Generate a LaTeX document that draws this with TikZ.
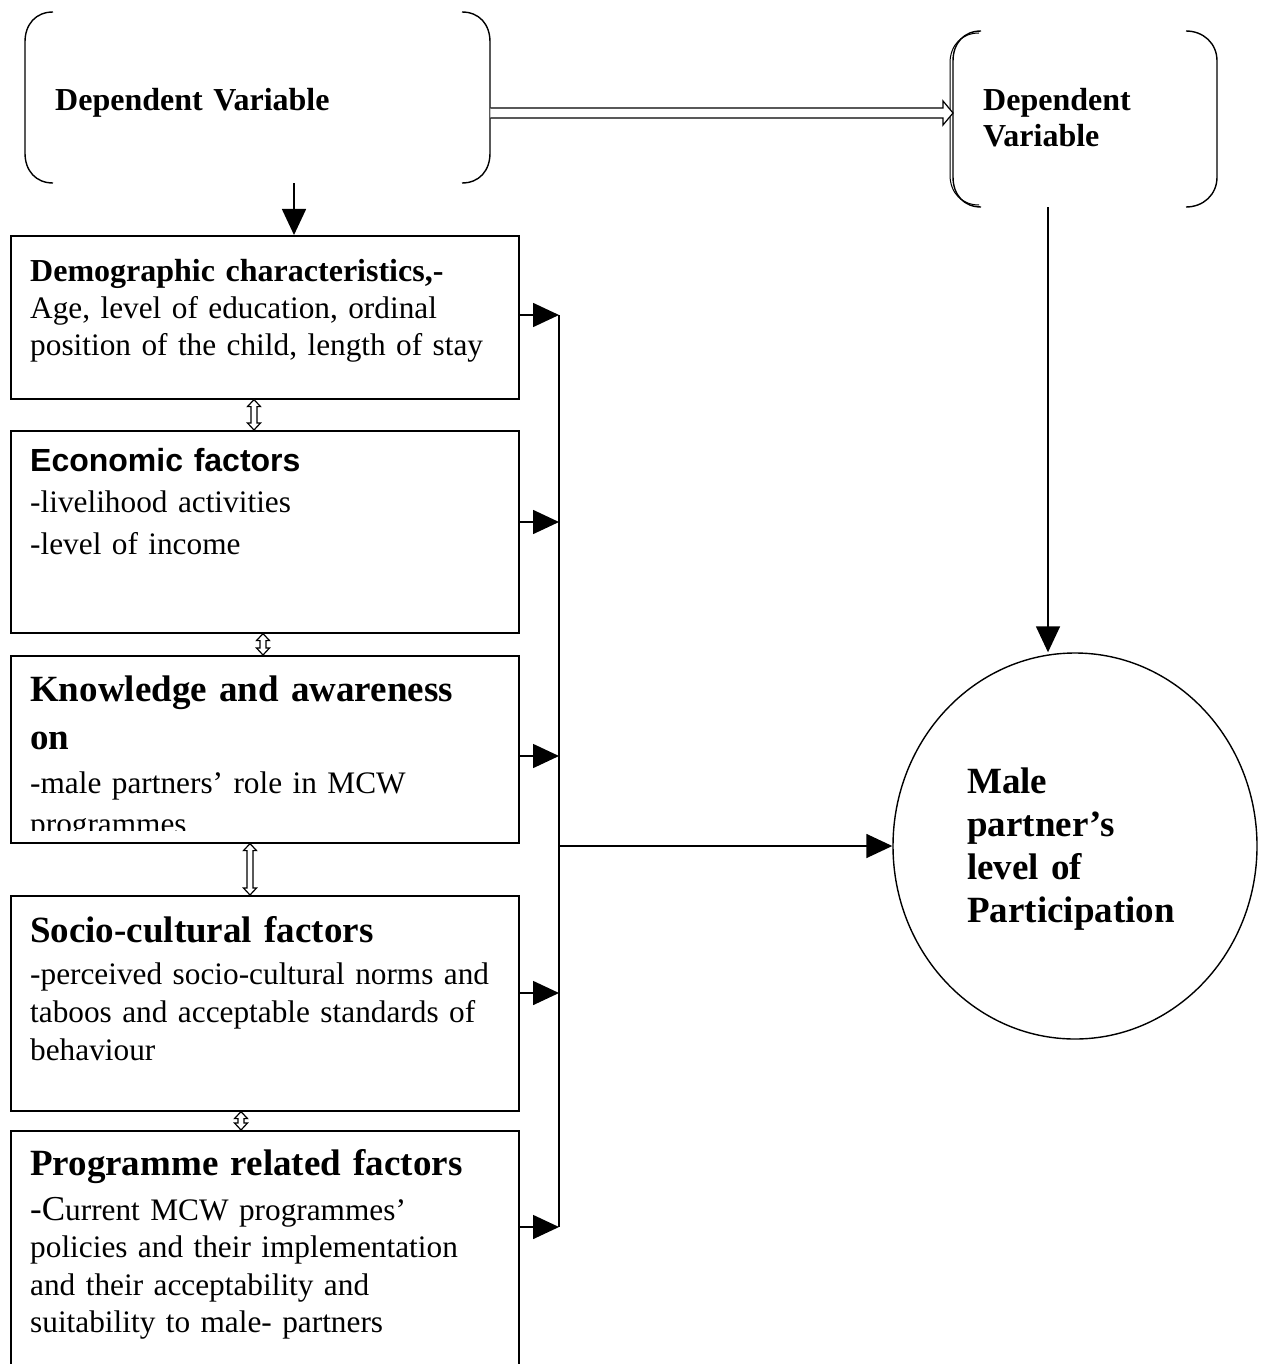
\documentclass[tikz,border=0pt]{standalone}
\usepackage{fontspec}
\setmainfont{Liberation Serif}
\newfontfamily\arialfont{Liberation Sans}
\usetikzlibrary{arrows.meta,shapes.geometric,calc}
\newcommand{\udarrow}[2]{%
  \draw[blk] let \p1=(#1), \p2=(#2) in
    (\x1-3pt,\y1-7pt) -- (\x1-6.5pt,\y1-7pt) -- (\x1,\y1) -- (\x1+6.5pt,\y1-7pt) -- (\x1+3pt,\y1-7pt)
    -- (\x1+3pt,\y2+7pt) -- (\x1+6.5pt,\y2+7pt) -- (\x1,\y2) -- (\x1-6.5pt,\y2+7pt) -- (\x1-3pt,\y2+7pt) -- cycle;}
\begin{document}
\begin{tikzpicture}[x=1pt,y=-1pt,
  box/.style={draw, line width=1.6pt, rectangle, minimum width=508pt, anchor=north west, inner sep=0pt},
  hidden/.style={rectangle, anchor=north west, inner sep=0pt},
  brk/.style={line width=1.4pt},
  blk/.style={line width=1.2pt, fill=white, line join=miter},
  arr/.style={line width=1.6pt, -{Triangle[length=26pt,width=24pt]}},
  txt/.style={anchor=base west, inner sep=0pt, align=left, text width=480pt},
  body/.style={txt, font=\fontsize{31.3}{37}\selectfont},
  hd/.style={txt, font=\fontsize{32}{35}\selectfont\bfseries},
  bighd/.style={txt, font=\fontsize{37}{48}\selectfont\bfseries},
]
\useasboundingbox (0,0) rectangle (1268,1364);
\clip (0,0) rectangle (1268,1364);

% top-left bracket box
\node[hidden, minimum width=465pt, minimum height=171pt] (dv1) at (25,12) {};
\draw[brk] (53,12) .. controls (36,12) and (25,24) .. (25,42) -- (25,153) .. controls (25,171) and (36,183) .. (53,183);
\draw[brk] (462,12) .. controls (479,12) and (490,24) .. (490,42) -- (490,153) .. controls (490,171) and (479,183) .. (462,183);
\node[hd] (dv1t) at (55,111) {Dependent Variable};

% top-right bracket box
\node[hidden, minimum width=264pt, minimum height=176pt] (dv2) at (953,31) {};
\draw[brk] (981,31) .. controls (964,31) and (953,43) .. (953,61) -- (953,177) .. controls (953,195) and (964,207) .. (981,207);
\draw[line width=1pt] (979,33) .. controls (962,33) and (950,45) .. (950,63) -- (950,175) .. controls (950,193) and (962,205) .. (979,205);
\draw[brk] (1186,31) .. controls (1203,31) and (1217,43) .. (1217,61) -- (1217,177) .. controls (1217,195) and (1203,207) .. (1186,207);
\node[hd, font=\fontsize{32}{36}\selectfont\bfseries, text width=230pt] (dv2t) at (983,111) {Dependent\\Variable};

% left boxes
\node[box, minimum height=163pt] (b1) at (10,235) {};
\node[box, minimum height=202pt] (b2) at (10,430) {};
\node[box, minimum height=187pt] (b3) at (10,655) {};
\node[box, minimum height=215pt] (b4) at (10,895) {};
\node[box, minimum height=260pt] (b5) at (10,1130) {};

\node[hd] (b1h) at (30,281) {Demographic characteristics,-};
\node[body] (b1b) at (30,318) {Age, level of education, ordinal\\position of the child, length of stay};

\node[hd, font=\fontsize{32}{35}\selectfont\arialfont\bfseries] (b2h) at (30,471) {Economic factors};
\node[body, font=\fontsize{31.3}{42}\selectfont] (b2b) at (30,512) {-livelihood activities\\-level of income};

\node[bighd] (b3h) at (30,701) {Knowledge and awareness\\on};
\begin{scope}
\clip (10,655) rectangle (518,830);
\node[body, font=\fontsize{31.3}{41}\selectfont] (b3b) at (30,793) {-male partners’ role in MCW\\programmes};
\end{scope}

\node[bighd] (b4h) at (30,942) {Socio-cultural factors};
\node[body, font=\fontsize{31.3}{38}\selectfont] (b4b) at (30,984) {-perceived socio-cultural norms and\\taboos and acceptable standards of\\behaviour};

\node[bighd] (b5h) at (30,1175) {Programme related factors};
\node[body, font=\fontsize{31.3}{37.5}\selectfont] (b5b) at (30,1220) {{\fontsize{35}{35}\selectfont -C}urrent MCW programmes’\\policies and their implementation\\and their acceptability and\\suitability to male- partners};

% outcome ellipse
\node[draw, ellipse, line width=1.4pt, minimum width=364pt, minimum height=386pt, inner sep=0pt] (circ) at (1075,846) {};
\node[bighd, font=\fontsize{37}{43}\selectfont\bfseries, text width=280pt] (circt) at (967,793) {Male\\partner’s\\level of\\Participation};

% coordinates
\coordinate (h1) at (0,113);
\coordinate (ax) at (294,0);
\coordinate (vx) at (1048,0);
\coordinate (a1) at (559,315);
\coordinate (a2) at (559,522);
\coordinate (a3) at (559,756);
\coordinate (a4) at (559,993);
\coordinate (a5) at (559,1227);
\coordinate (am) at (559,846);
\coordinate (d1) at (254,0);
\coordinate (d2) at (263,0);
\coordinate (d3) at (250,0);
\coordinate (d4) at (241,0);

% hollow block arrow between the two dependent-variable boxes
\draw[blk] let \p1=(dv1.east |- h1), \p2=(dv2.west |- h1) in
  (\x1,\y1+5pt) -- (\x2-10pt,\y1+5pt) -- (\x2-10pt,\y1+12pt) -- (\x2,\y1)
  -- (\x2-10pt,\y1-12pt) -- (\x2-10pt,\y1-5pt) -- (\x1,\y1-5pt);

% connectors
\draw[arr] (dv1.south -| ax) -- (b1.north -| ax);
\draw[arr] (dv2.south -| vx) -- (circ.north -| vx);

\draw[line width=1.6pt] (a1) -- (a5);
\draw[arr] (b1.east |- a1) -- (a1);
\draw[arr] (b2.east |- a2) -- (a2);
\draw[arr] (b3.east |- a3) -- (a3);
\draw[arr] (b4.east |- a4) -- (a4);
\draw[arr] (b5.east |- a5) -- (a5);
\draw[arr] (am) -- (circ.west);

% hollow two-way arrows between the factor boxes
\udarrow{b1.south -| d1}{b2.north -| d1}
\udarrow{b2.south -| d2}{b3.north -| d2}
\udarrow{b3.south -| d3}{b4.north -| d3}
\udarrow{b4.south -| d4}{b5.north -| d4}
\end{tikzpicture}
\end{document}
